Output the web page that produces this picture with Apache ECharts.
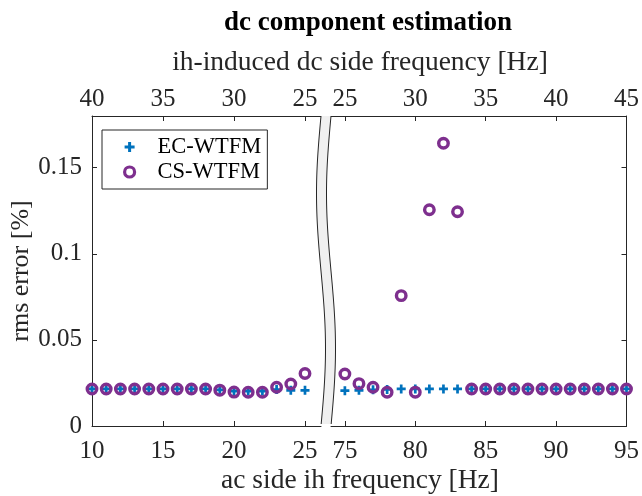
<!DOCTYPE html>
<html>
<head>
<meta charset="utf-8">
<script src="https://cdn.jsdelivr.net/npm/echarts@6/dist/echarts.min.js"></script>
<style>
  html, body { margin: 0; padding: 0; background: #fff; }
  #main { width: 642px; height: 496px; }
</style>
</head>
<body>
<div id="main"></div>
<script>
// ac side ih frequency, left part of the broken axis
let acLeft = [10, 11, 12, 13, 14, 15, 16, 17, 18, 19, 20, 21, 22, 23, 24, 25];
let ecLeft = [0.0215, 0.0215, 0.0215, 0.0215, 0.0215, 0.0215, 0.0215, 0.0215, 0.0215, 0.0210, 0.0203, 0.0203, 0.0203, 0.0212, 0.0207, 0.0207];
let csLeft = [0.0215, 0.0215, 0.0215, 0.0215, 0.0215, 0.0215, 0.0215, 0.0215, 0.0215, 0.0208, 0.0197, 0.0196, 0.0196, 0.0225, 0.0244, 0.0305];

// right part of the broken axis
let acRight = [75, 76, 77, 78, 79, 80, 81, 82, 83, 84, 85, 86, 87, 88, 89, 90, 91, 92, 93, 94, 95];
let ecRight = [0.0205, 0.0207, 0.0210, 0.0212, 0.0215, 0.0215, 0.0215, 0.0215, 0.0215, 0.0215, 0.0215, 0.0215, 0.0215, 0.0215, 0.0215, 0.0215, 0.0215, 0.0215, 0.0215, 0.0215, 0.0215];
let csRight = [0.0302, 0.0246, 0.0225, 0.0196, 0.0757, 0.0196, 0.1256, 0.1642, 0.1244, 0.0215, 0.0215, 0.0215, 0.0215, 0.0215, 0.0215, 0.0215, 0.0215, 0.0215, 0.0215, 0.0215, 0.0215];

// tick labels
let xTicksLeft = [10, 15, 20, 25];
let xTicksRight = [75, 80, 85, 90, 95];
let yTicks = [0, 0.05, 0.1, 0.15];

const FONT = 'Liberation Serif';
const AX = '#262626';
const BLUE = '#0072BD';
const PURPLE = '#7E2F8E';
const PLUS = 'path://M-1.5,-5H1.5V-1.5H5V1.5H1.5V5H-1.5V1.5H-5V-1.5H-1.5Z';

let chart = echarts.init(document.getElementById('main'));

const zip = (xs, ys) => xs.map((x, i) => [x, ys[i]]);

// common x axis settings
const xAxisBase = (grid, pos, min, max, ticks, fmt) => ({
    type: 'value',
    gridIndex: grid,
    position: pos,
    min: min,
    max: max,
    splitLine: { show: false },
    axisLine: { show: true, onZero: false, lineStyle: { color: AX, width: 1 } },
    axisTick: { show: true, inside: true, length: 5, customValues: ticks, lineStyle: { color: AX } },
    axisLabel: {
        customValues: ticks,
        margin: pos === 'top' ? 4 : 13,
        color: AX,
        fontFamily: FONT,
        fontSize: 25,
        formatter: fmt
    }
});

const scatter = (name, xi, yi, data, isPlus) => ({
    type: 'scatter',
    name: name,
    xAxisIndex: xi,
    yAxisIndex: yi,
    data: data,
    symbol: isPlus ? PLUS : 'circle',
    symbolSize: isPlus ? 9 : 9.5,
    itemStyle: isPlus
        ? { color: BLUE, opacity: 1 }
        : { color: 'rgba(0,0,0,0)', borderColor: PURPLE, borderWidth: 3.4, opacity: 1 },
    emphasis: { disabled: true },
    z: isPlus ? 2 : 3
});

// the wavy break band between the two panels
const breakBand = () => {
    let top = 116, bottom = 426, x0 = 321, w = 10;
    let left = [], right = [];
    for (let y = top; y <= bottom; y += 4) {
        let off = -4.5 * Math.sin(2 * Math.PI * (y - top) / (bottom - top));
        left.push([x0 + off, y]);
        right.push([x0 + w + off, y]);
    }
    return [
        { type: 'polygon', shape: { points: left.concat(right.slice().reverse()) }, style: { fill: '#f0f0f0' }, z: 10 },
        { type: 'polyline', shape: { points: left }, style: { stroke: AX, lineWidth: 1, fill: null }, z: 11 },
        { type: 'polyline', shape: { points: right }, style: { stroke: AX, lineWidth: 1, fill: null }, z: 11 }
    ];
};

chart.setOption({
    animation: false,
    backgroundColor: '#fff',
    title: {
        text: 'dc component estimation',
        left: 363,
        top: 5,
        textAlign: 'center',
        textStyle: { fontFamily: FONT, fontSize: 27, fontWeight: 'bold', color: '#000' }
    },
    legend: {
        orient: 'vertical',
        left: 102,
        top: 130,
        data: [
            { name: 'EC-WTFM' },
            { name: 'CS-WTFM', itemStyle: { borderWidth: 3.2, borderColor: PURPLE, color: 'rgba(0,0,0,0)' } }
        ],
        itemWidth: 46,
        itemHeight: 10,
        itemGap: 1,
        symbolKeepAspect: true,
        padding: [5, 6, 5, 21],
        borderColor: AX,
        borderWidth: 1,
        backgroundColor: '#fff',
        selectedMode: false,
        textStyle: { fontFamily: FONT, fontSize: 22.5, color: '#000', lineHeight: 24 }
    },
    grid: [
        { left: 92, top: 116, width: 229, height: 310 },
        { left: 331, top: 116, width: 298, height: 310 }
    ],
    xAxis: [
        xAxisBase(0, 'bottom', 10, 10 + 229 / 14.2, xTicksLeft, (v) => String(v)),
        xAxisBase(0, 'top', 10, 10 + 229 / 14.2, xTicksLeft, (v) => String(50 - v)),
        xAxisBase(1, 'bottom', 95 - 298 / 14.2, 95, xTicksRight, (v) => String(v)),
        xAxisBase(1, 'top', 95 - 298 / 14.2, 95, xTicksRight, (v) => String(v - 50))
    ],
    yAxis: [
        {
            type: 'value',
            gridIndex: 0,
            min: 0,
            max: 0.18,
            name: 'rms error [%]',
            nameLocation: 'middle',
            nameGap: 54,
            nameTextStyle: { fontFamily: FONT, fontSize: 26, color: AX },
            splitLine: { show: false },
            axisLine: { show: true, lineStyle: { color: AX } },
            axisTick: { show: true, inside: true, length: 5, customValues: yTicks, lineStyle: { color: AX } },
            axisLabel: { customValues: yTicks, margin: 10, color: AX, fontFamily: FONT, fontSize: 25 }
        },
        {
            type: 'value',
            gridIndex: 1,
            position: 'right',
            min: 0,
            max: 0.18,
            splitLine: { show: false },
            axisLine: { show: true, lineStyle: { color: AX } },
            axisTick: { show: true, inside: true, length: 5, customValues: yTicks, lineStyle: { color: AX } },
            axisLabel: { show: false }
        }
    ],
    graphic: [
        {
            type: 'text',
            x: 360,
            y: 63,
            style: {
                text: 'ih-induced dc side frequency [Hz]',
                fontFamily: FONT, fontSize: 27.5, fill: AX,
                align: 'center', verticalAlign: 'middle'
            }
        },
        {
            type: 'text',
            x: 360,
            y: 481,
            style: {
                text: 'ac side ih frequency [Hz]',
                fontFamily: FONT, fontSize: 27.5, fill: AX,
                align: 'center', verticalAlign: 'middle'
            }
        }
    ].concat(breakBand()),
    series: [
        scatter('EC-WTFM', 0, 0, zip(acLeft, ecLeft), true),
        scatter('CS-WTFM', 0, 0, zip(acLeft, csLeft), false),
        scatter('EC-WTFM', 2, 1, zip(acRight, ecRight), true),
        scatter('CS-WTFM', 2, 1, zip(acRight, csRight), false)
    ]
});
</script>
</body>
</html>
